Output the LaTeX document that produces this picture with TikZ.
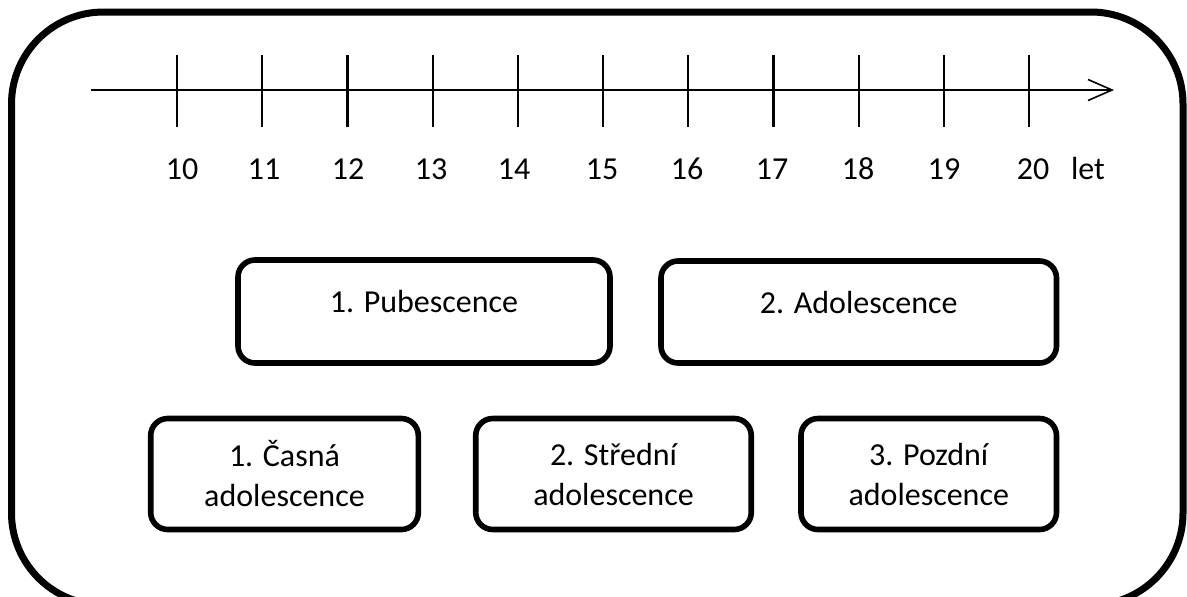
\documentclass[tikz,border=0pt]{standalone}
\usepackage{fontspec}
\setmainfont{Carlito}
\usepackage{tikz}
\usetikzlibrary{arrows.meta}

\begin{document}
\begin{tikzpicture}[%
    x=0.5pt, y=-0.5pt,
    axis/.style={
      line width=1.3pt,
      -{Straight Barb[length=12pt,width=10.5pt,line width=0.8pt]}
    },
    tick/.style={line width=1.1pt},
    year/.style={
      anchor=base,
      inner sep=0pt,
      font=\fontsize{16}{20}\selectfont
    },
    phase/.style={
      draw,
      line width=2.8pt,
      rounded corners=8.5pt,
      align=center,
      inner sep=0pt,
      font=\fontsize{16}{20}\selectfont
    },
    oneline/.style={text height=0.7em, text depth=0.575em}
  ]
    \useasboundingbox (0,0) rectangle (1187,596);

    % outer frame, bottom edge runs off the page
    \draw[line width=3.5pt, rounded corners=46pt] (11.5,12) rectangle (1183,605);

    % time axis
    \coordinate (start) at (91,90);
    \coordinate (end) at (1114,90);
    \draw[axis] (start) -- (end);
    \foreach \i in {0,...,10}
      \draw[tick] ({177+85.2*\i},55) -- ({177+85.2*\i},127);

    \node[year] at (182,179) (y10) {10};
    \node[year] at (264,179) (y11) {11};
    \node[year] at (348,179) (y12) {12};
    \node[year] at (431,179) (y13) {13};
    \node[year] at (514,179) (y14) {14};
    \node[year] at (602,179) (y15) {15};
    \node[year] at (687,179) (y16) {16};
    \node[year] at (772,179) (y17) {17};
    \node[year] at (858,179) (y18) {18};
    \node[year] at (944,179) (y19) {19};
    \node[year] at (1033,179) (y20) {20};
    \node[year] at (1088,179) (let) {let};

    % two periods
    \node[phase,oneline,minimum width=186pt,minimum height=51.5pt]
        at (424,311.5) (pub) {1. Pubescence};
    \node[phase,oneline,minimum width=197.75pt,minimum height=51pt]
        at (858.75,312) (ado) {2. Adolescence};

    % three stages of adolescence
    \node[phase,minimum width=133.8pt,minimum height=55.5pt]
        at (284.5,474) (early) {1. Časná\\adolescence};
    \node[phase,minimum width=137.75pt,minimum height=55.5pt]
        at (613.5,474) (middle) {2. Střední\\adolescence};
    \node[phase,minimum width=127.75pt,minimum height=55.5pt]
        at (928.75,474) (late) {3. Pozdní\\adolescence};
\end{tikzpicture}
\end{document}
